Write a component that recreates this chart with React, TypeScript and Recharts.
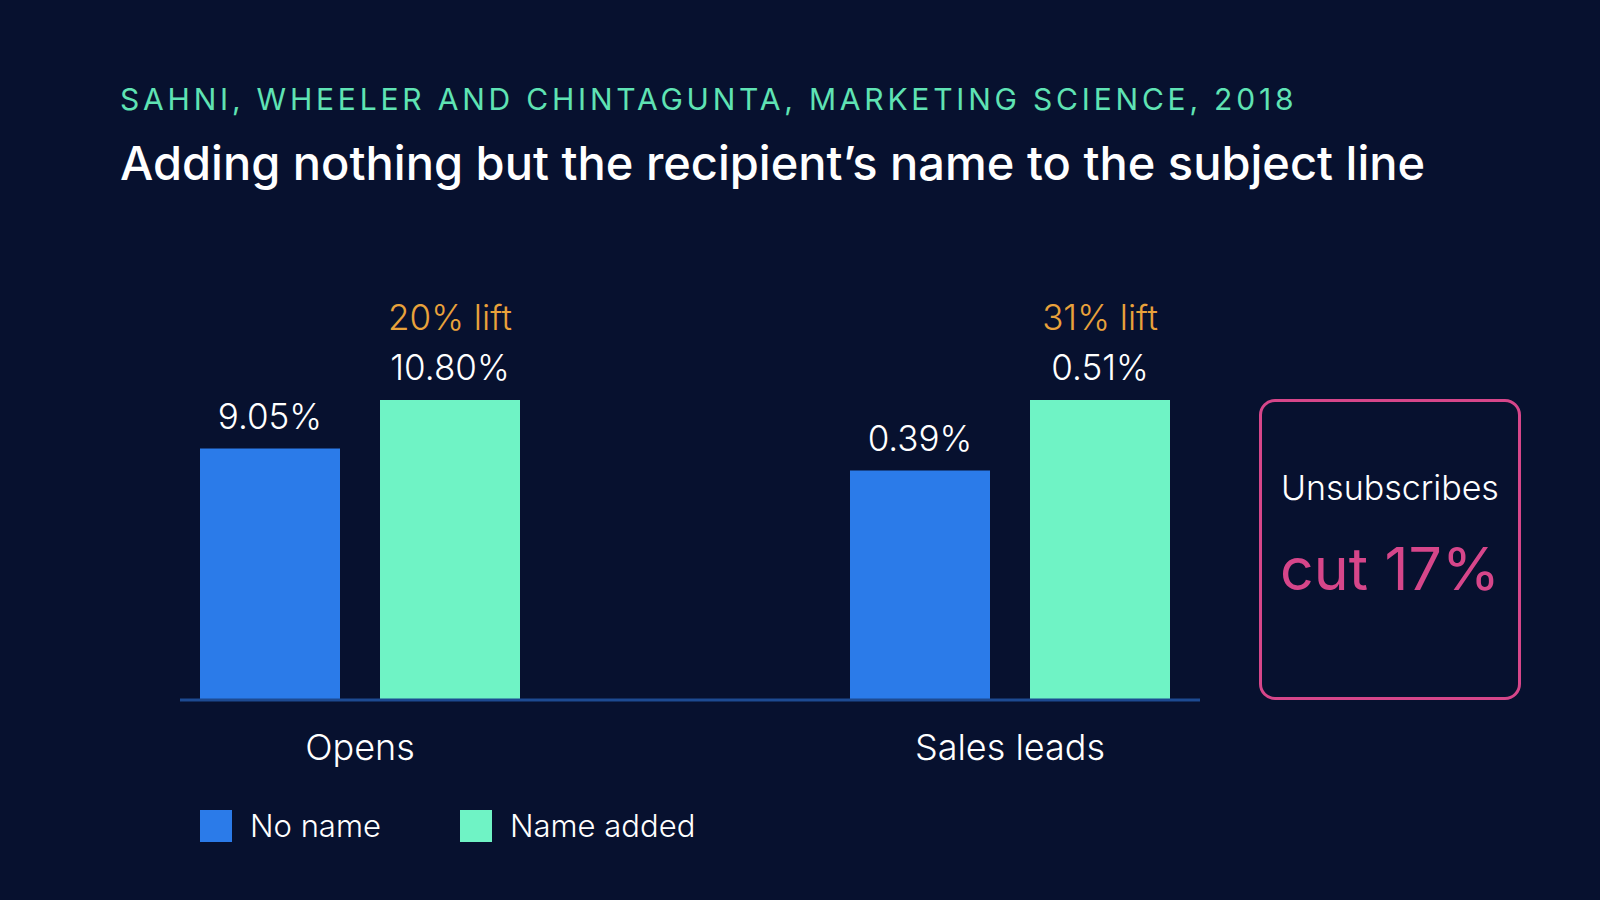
import { Bar, BarChart, LabelList, Legend, XAxis, YAxis } from "recharts";

const categories = ["Opens", "Sales leads"];
const noNameRates = [9.05, 0.39];
const nameAddedRates = [10.8, 0.51];
const liftLabels = ["20% lift", "31% lift"];
const seriesNames = ["No name", "Name added"];
const unsubscribeCut = 17;

const BG = "#07112f";
const BLUE = "#2b7be9";
const MINT = "#6ff3c5";
const ORANGE = "#e9a23b";
const PINK = "#d6468a";
const AXIS = "#1d4a91";
const FONT = "Inter, 'Noto Sans', sans-serif";

// each group is scaled to its own max, like the original slide
const data = categories.map((category, i) => {
  const max = Math.max(noNameRates[i], nameAddedRates[i]);
  return {
    category,
    noName: noNameRates[i] / max,
    nameAdded: nameAddedRates[i] / max,
    noNameLabel: `${noNameRates[i].toFixed(2)}%`,
    nameAddedLabel: `${nameAddedRates[i].toFixed(2)}%`,
    lift: liftLabels[i],
  };
});

function valueLabel(props: any) {
  const { x, y, width, value } = props;
  return (
    <text x={Number(x) + Number(width) / 2} y={Number(y) - 20} textAnchor="middle" fill="#ffffff" fontSize={35} fontWeight={300} fontFamily={FONT}>
      {value}
    </text>
  );
}

function liftLabel(props: any) {
  const { x, y, width, value } = props;
  return (
    <text x={Number(x) + Number(width) / 2} y={Number(y) - 70} textAnchor="middle" fill={ORANGE} fontSize={35} fontWeight={300} fontFamily={FONT}>
      {value}
    </text>
  );
}

function CategoryTick(props: any) {
  const { x, y, payload } = props;
  return (
    <text x={x} y={Number(y) + 60} textAnchor="middle" fill="#ffffff" fontSize={36} fontWeight={300} fontFamily={FONT}>
      {payload.value}
    </text>
  );
}

function LegendContent(props: any) {
  const items = [...(props.payload || [])].sort(
    (a: any, b: any) => seriesNames.indexOf(a.value) - seriesNames.indexOf(b.value)
  );
  return (
    <div style={{ display: "flex", fontFamily: FONT }}>
      {items.map((item: any) => (
        <div key={item.value} style={{ display: "flex", alignItems: "center", width: 260, flex: "0 0 260px" }}>
          <span style={{ width: 32, height: 32, background: item.color, marginRight: 18, display: "inline-block" }} />
          <span style={{ color: "#ffffff", fontSize: 31, fontWeight: 300 }}>{item.value}</span>
        </div>
      ))}
    </div>
  );
}

export default function App() {
  return (
    <div style={{ position: "relative", width: 1600, height: 900, background: BG, overflow: "hidden", fontFamily: FONT }}>
      <style>{"body{margin:0}"}</style>
      <BarChart
        width={1600}
        height={900}
        data={data}
        margin={{ top: 400, right: 400, bottom: 140, left: 180 }}
        barSize={140}
        barGap={40}
        style={{ position: "absolute", left: 0, top: 0 }}
      >
        <XAxis
          dataKey="category"
          height={60}
          axisLine={{ stroke: AXIS, strokeWidth: 3 }}
          tickLine={false}
          tickSize={0}
          tickMargin={0}
          interval={0}
          tick={<CategoryTick />}
          padding={{ left: -145, right: -135 }}
        />
        <YAxis hide domain={[0, 1]} />
        <Legend
          layout="horizontal"
          verticalAlign="middle"
          align="center"
          content={<LegendContent />}
          wrapperStyle={{ left: 200, top: 807, width: 700, height: 32 }}
        />
        <Bar dataKey="noName" name={seriesNames[0]} fill={BLUE} isAnimationActive={false}>
          <LabelList dataKey="noNameLabel" content={valueLabel} />
        </Bar>
        <Bar dataKey="nameAdded" name={seriesNames[1]} fill={MINT} isAnimationActive={false}>
          <LabelList dataKey="nameAddedLabel" content={valueLabel} />
          <LabelList dataKey="lift" content={liftLabel} />
        </Bar>
      </BarChart>

      <div style={{ position: "absolute", left: 120, top: 84, fontSize: 30, lineHeight: 1, letterSpacing: 3.8, color: "#5fe3b4", whiteSpace: "nowrap" }}>
        SAHNI, WHEELER AND CHINTAGUNTA, MARKETING SCIENCE, 2018
      </div>
      <div style={{ position: "absolute", left: 120, top: 139, fontSize: 47, lineHeight: 1, fontWeight: 500, color: "#ffffff", whiteSpace: "nowrap" }}>
        Adding nothing but the recipient’s name to the subject line
      </div>

      <div
        style={{
          position: "absolute",
          left: 1259,
          top: 399,
          width: 262,
          height: 301,
          boxSizing: "border-box",
          border: `3px solid ${PINK}`,
          borderRadius: 16,
          textAlign: "center",
        }}
      >
        <div style={{ position: "absolute", left: 0, right: 0, top: 66, fontSize: 34, lineHeight: "40px", fontWeight: 300, color: "#ffffff" }}>Unsubscribes</div>
        <div style={{ position: "absolute", left: 0, right: 0, top: 134, fontSize: 59, lineHeight: "66px", fontWeight: 400, color: PINK }}>
          cut {unsubscribeCut}%
        </div>
      </div>
    </div>
  );
}
